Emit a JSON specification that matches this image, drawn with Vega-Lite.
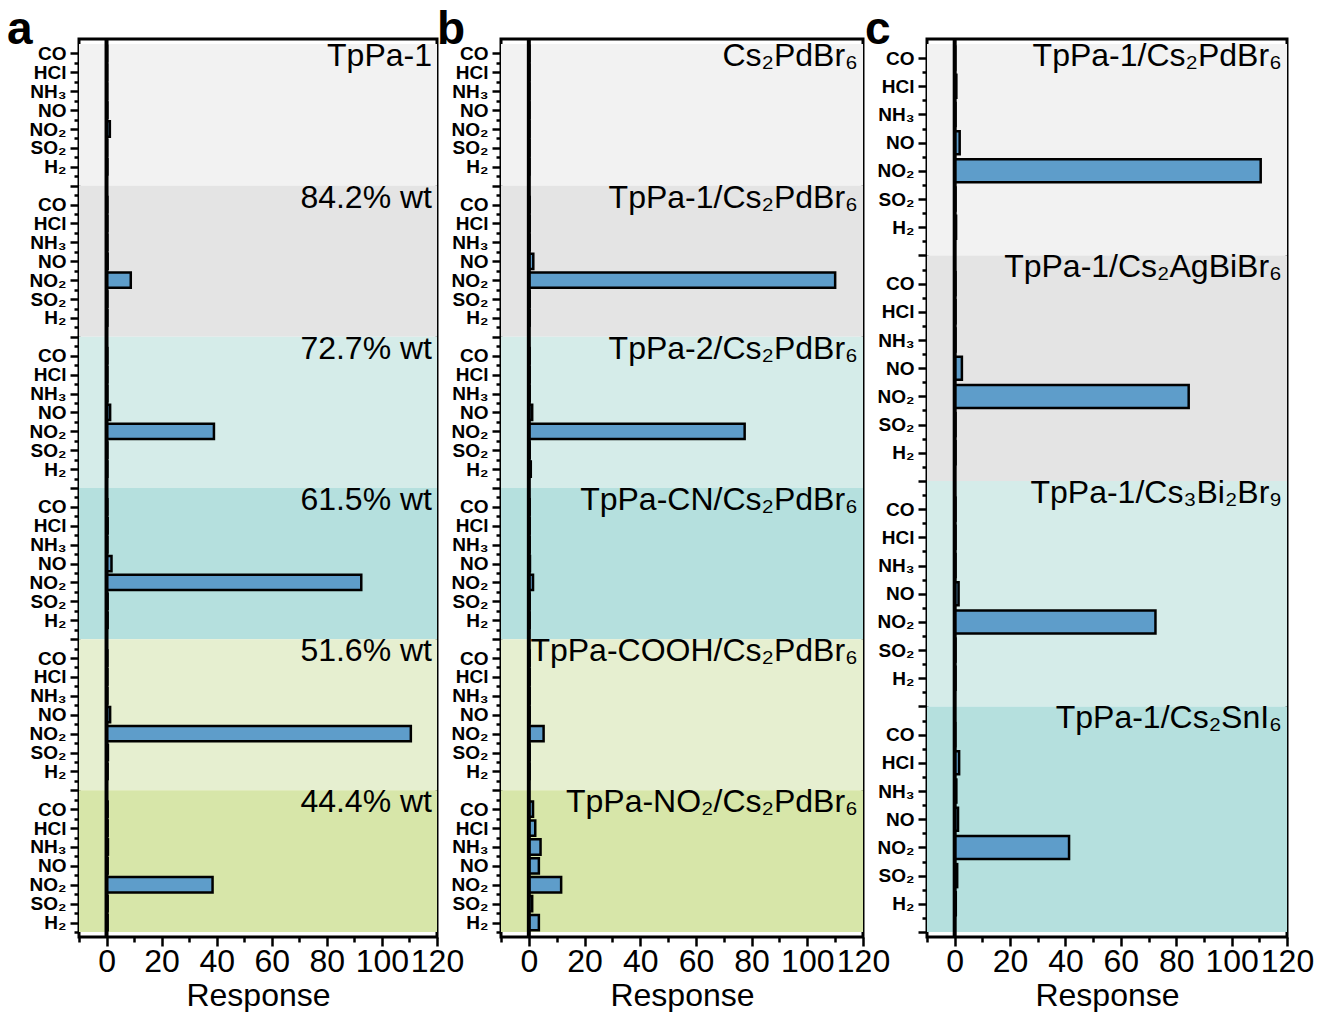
{
  "$schema": "https://vega.github.io/schema/vega-lite/v6.json",
  "background": "white",
  "padding": {"left": 5, "top": 5, "right": 5, "bottom": 0},
  "bounds": "flush",
  "spacing": 64,
  "config": {
    "font": "Liberation Sans",
    "view": {"stroke": "black", "strokeWidth": 3},
    "axis": {"domain": false, "grid": false, "tickColor": "black", "tickWidth": 2.5, "labelColor": "black", "titleColor": "black", "labelFont": "Liberation Sans", "titleFont": "Liberation Sans"},
    "axisX": {"labelFontSize": 32, "titleFontSize": 32, "titleFontWeight": "normal", "labelPadding": 0, "titlePadding": 3, "labelFlush": false, "labelOverlap": false, "labelBound": false},
    "axisY": {"labelFontSize": 19, "labelFontWeight": "bold", "labelPadding": 4, "labelOverlap": false, "labelBound": false}
  },
  "datasets": {
    "groups": [
      {"p": "a", "g": 0, "label": "TpPa-1"},
      {"p": "a", "g": 1, "label": "84.2% wt"},
      {"p": "a", "g": 2, "label": "72.7% wt"},
      {"p": "a", "g": 3, "label": "61.5% wt"},
      {"p": "a", "g": 4, "label": "51.6% wt"},
      {"p": "a", "g": 5, "label": "44.4% wt"},
      {"p": "b", "g": 0, "label": "Cs₂PdBr₆"},
      {"p": "b", "g": 1, "label": "TpPa-1/Cs₂PdBr₆"},
      {"p": "b", "g": 2, "label": "TpPa-2/Cs₂PdBr₆"},
      {"p": "b", "g": 3, "label": "TpPa-CN/Cs₂PdBr₆"},
      {"p": "b", "g": 4, "label": "TpPa-COOH/Cs₂PdBr₆"},
      {"p": "b", "g": 5, "label": "TpPa-NO₂/Cs₂PdBr₆"},
      {"p": "c", "g": 0, "label": "TpPa-1/Cs₂PdBr₆"},
      {"p": "c", "g": 1, "label": "TpPa-1/Cs₂AgBiBr₆"},
      {"p": "c", "g": 2, "label": "TpPa-1/Cs₃Bi₂Br₉"},
      {"p": "c", "g": 3, "label": "TpPa-1/Cs₂SnI₆"}
    ],
    "bars": [
      {"p": "a", "g": 0, "gas": "CO", "v": 0.2}, {"p": "a", "g": 0, "gas": "HCl", "v": 0.2}, {"p": "a", "g": 0, "gas": "NH3", "v": 0.2}, {"p": "a", "g": 0, "gas": "NO", "v": 0.3}, {"p": "a", "g": 0, "gas": "NO2", "v": 1.2}, {"p": "a", "g": 0, "gas": "SO2", "v": 0.2}, {"p": "a", "g": 0, "gas": "H2", "v": 0.3},
      {"p": "a", "g": 1, "gas": "CO", "v": 0.3}, {"p": "a", "g": 1, "gas": "HCl", "v": 0.3}, {"p": "a", "g": 1, "gas": "NH3", "v": 0.3}, {"p": "a", "g": 1, "gas": "NO", "v": 0.4}, {"p": "a", "g": 1, "gas": "NO2", "v": 8.8}, {"p": "a", "g": 1, "gas": "SO2", "v": 0.3}, {"p": "a", "g": 1, "gas": "H2", "v": 0.3},
      {"p": "a", "g": 2, "gas": "CO", "v": 0.3}, {"p": "a", "g": 2, "gas": "HCl", "v": 0.3}, {"p": "a", "g": 2, "gas": "NH3", "v": 0.3}, {"p": "a", "g": 2, "gas": "NO", "v": 1.3}, {"p": "a", "g": 2, "gas": "NO2", "v": 39}, {"p": "a", "g": 2, "gas": "SO2", "v": 0.3}, {"p": "a", "g": 2, "gas": "H2", "v": 0.3},
      {"p": "a", "g": 3, "gas": "CO", "v": 0.3}, {"p": "a", "g": 3, "gas": "HCl", "v": 0.4}, {"p": "a", "g": 3, "gas": "NH3", "v": 0.3}, {"p": "a", "g": 3, "gas": "NO", "v": 1.8}, {"p": "a", "g": 3, "gas": "NO2", "v": 92.5}, {"p": "a", "g": 3, "gas": "SO2", "v": 0.4}, {"p": "a", "g": 3, "gas": "H2", "v": 0.4},
      {"p": "a", "g": 4, "gas": "CO", "v": 0.3}, {"p": "a", "g": 4, "gas": "HCl", "v": 0.3}, {"p": "a", "g": 4, "gas": "NH3", "v": 0.3}, {"p": "a", "g": 4, "gas": "NO", "v": 1.3}, {"p": "a", "g": 4, "gas": "NO2", "v": 110.5}, {"p": "a", "g": 4, "gas": "SO2", "v": 0.5}, {"p": "a", "g": 4, "gas": "H2", "v": 0.4},
      {"p": "a", "g": 5, "gas": "CO", "v": 0.4}, {"p": "a", "g": 5, "gas": "HCl", "v": 0.4}, {"p": "a", "g": 5, "gas": "NH3", "v": 0.5}, {"p": "a", "g": 5, "gas": "NO", "v": 0.4}, {"p": "a", "g": 5, "gas": "NO2", "v": 38.5}, {"p": "a", "g": 5, "gas": "SO2", "v": 0.4}, {"p": "a", "g": 5, "gas": "H2", "v": 0.4},
      {"p": "b", "g": 0, "gas": "CO", "v": 0.2}, {"p": "b", "g": 0, "gas": "HCl", "v": 0.2}, {"p": "b", "g": 0, "gas": "NH3", "v": 0.2}, {"p": "b", "g": 0, "gas": "NO", "v": 0.2}, {"p": "b", "g": 0, "gas": "NO2", "v": 0.2}, {"p": "b", "g": 0, "gas": "SO2", "v": 0.2}, {"p": "b", "g": 0, "gas": "H2", "v": 0.2},
      {"p": "b", "g": 1, "gas": "CO", "v": 0.3}, {"p": "b", "g": 1, "gas": "HCl", "v": 0.3}, {"p": "b", "g": 1, "gas": "NH3", "v": 0.3}, {"p": "b", "g": 1, "gas": "NO", "v": 1.6}, {"p": "b", "g": 1, "gas": "NO2", "v": 110}, {"p": "b", "g": 1, "gas": "SO2", "v": 0.3}, {"p": "b", "g": 1, "gas": "H2", "v": 0.3},
      {"p": "b", "g": 2, "gas": "CO", "v": 0.3}, {"p": "b", "g": 2, "gas": "HCl", "v": 0.3}, {"p": "b", "g": 2, "gas": "NH3", "v": 0.3}, {"p": "b", "g": 2, "gas": "NO", "v": 1.2}, {"p": "b", "g": 2, "gas": "NO2", "v": 77.5}, {"p": "b", "g": 2, "gas": "SO2", "v": 0.3}, {"p": "b", "g": 2, "gas": "H2", "v": 0.7},
      {"p": "b", "g": 3, "gas": "CO", "v": 0.3}, {"p": "b", "g": 3, "gas": "HCl", "v": 0.3}, {"p": "b", "g": 3, "gas": "NH3", "v": 0.3}, {"p": "b", "g": 3, "gas": "NO", "v": 0.4}, {"p": "b", "g": 3, "gas": "NO2", "v": 1.5}, {"p": "b", "g": 3, "gas": "SO2", "v": 0.3}, {"p": "b", "g": 3, "gas": "H2", "v": 0.3},
      {"p": "b", "g": 4, "gas": "CO", "v": 0.3}, {"p": "b", "g": 4, "gas": "HCl", "v": 0.3}, {"p": "b", "g": 4, "gas": "NH3", "v": 0.3}, {"p": "b", "g": 4, "gas": "NO", "v": 0.3}, {"p": "b", "g": 4, "gas": "NO2", "v": 5.3}, {"p": "b", "g": 4, "gas": "SO2", "v": 0.3}, {"p": "b", "g": 4, "gas": "H2", "v": 0.3},
      {"p": "b", "g": 5, "gas": "CO", "v": 1.5}, {"p": "b", "g": 5, "gas": "HCl", "v": 2.3}, {"p": "b", "g": 5, "gas": "NH3", "v": 4.2}, {"p": "b", "g": 5, "gas": "NO", "v": 3.6}, {"p": "b", "g": 5, "gas": "NO2", "v": 11.6}, {"p": "b", "g": 5, "gas": "SO2", "v": 1.2}, {"p": "b", "g": 5, "gas": "H2", "v": 3.6},
      {"p": "c", "g": 0, "gas": "CO", "v": 0.2}, {"p": "c", "g": 0, "gas": "HCl", "v": 0.6}, {"p": "c", "g": 0, "gas": "NH3", "v": 0.3}, {"p": "c", "g": 0, "gas": "NO", "v": 1.8}, {"p": "c", "g": 0, "gas": "NO2", "v": 110.5}, {"p": "c", "g": 0, "gas": "SO2", "v": 0.3}, {"p": "c", "g": 0, "gas": "H2", "v": 0.5},
      {"p": "c", "g": 1, "gas": "CO", "v": 0.3}, {"p": "c", "g": 1, "gas": "HCl", "v": 0.3}, {"p": "c", "g": 1, "gas": "NH3", "v": 0.3}, {"p": "c", "g": 1, "gas": "NO", "v": 2.6}, {"p": "c", "g": 1, "gas": "NO2", "v": 84.5}, {"p": "c", "g": 1, "gas": "SO2", "v": 0.3}, {"p": "c", "g": 1, "gas": "H2", "v": 0.3},
      {"p": "c", "g": 2, "gas": "CO", "v": 0.3}, {"p": "c", "g": 2, "gas": "HCl", "v": 0.3}, {"p": "c", "g": 2, "gas": "NH3", "v": 0.3}, {"p": "c", "g": 2, "gas": "NO", "v": 1.4}, {"p": "c", "g": 2, "gas": "NO2", "v": 72.5}, {"p": "c", "g": 2, "gas": "SO2", "v": 0.3}, {"p": "c", "g": 2, "gas": "H2", "v": 0.3},
      {"p": "c", "g": 3, "gas": "CO", "v": 0.2}, {"p": "c", "g": 3, "gas": "HCl", "v": 1.6}, {"p": "c", "g": 3, "gas": "NH3", "v": 0.6}, {"p": "c", "g": 3, "gas": "NO", "v": 1.2}, {"p": "c", "g": 3, "gas": "NO2", "v": 41.3}, {"p": "c", "g": 3, "gas": "SO2", "v": 0.9}, {"p": "c", "g": 3, "gas": "H2", "v": 0.4}
    ]
  },
  "hconcat": [
    {
      "width": 358, "height": 898,
      "title": {"text": "a", "anchor": "start", "frame": "group", "fontSize": 46, "fontWeight": "bold", "color": "black", "dx": -72, "offset": -53, "baseline": "alphabetic"},
      "layer": [
        {
          "data": {"name": "groups"},
          "transform": [{"filter": "datum.p == 'a'"}, {"calculate": "max(datum.g*8-1,-0.5)", "as": "y0"}, {"calculate": "min(datum.g*8+7,46.5)", "as": "y1"}],
          "mark": {"type": "rect"},
          "encoding": {
            "x": {"datum": -10, "type": "quantitative", "title": "Response", "scale": {"domain": [-10, 120], "nice": false, "zero": false},
              "axis": {"values": [-10, 0, 10, 20, 30, 40, 50, 60, 70, 80, 90, 100, 110, 120], "format": "d", "tickCount": 500, "labelOverlap": false, "labelExpr": "datum.value >= 0 && datum.value % 20 == 0 ? datum.label : ''", "tickSize": {"condition": {"test": "datum.value % 20 != 0", "value": 5}, "value": 9}}},
            "x2": {"datum": 120},
            "y": {"field": "y0", "type": "quantitative", "title": null, "scale": {"domain": [-0.5, 46.5], "reverse": true, "nice": false, "zero": false},
              "axis": {"values": [0,0.5,1,1.5,2,2.5,3,3.5,4,4.5,5,5.5,6,6.5,7,7.5,8,8.5,9,9.5,10,10.5,11,11.5,12,12.5,13,13.5,14,14.5,15,15.5,16,16.5,17,17.5,18,18.5,19,19.5,20,20.5,21,21.5,22,22.5,23,23.5,24,24.5,25,25.5,26,26.5,27,27.5,28,28.5,29,29.5,30,30.5,31,31.5,32,32.5,33,33.5,34,34.5,35,35.5,36,36.5,37,37.5,38,38.5,39,39.5,40,40.5,41,41.5,42,42.5,43,43.5,44,44.5,45,45.5,46,46.5],
                "tickCount": 500, "labelOverlap": false,
                "labelExpr": "datum.value % 1 != 0 ? '' : ['CO','HCl','NH₃','NO','NO₂','SO₂','H₂',''][datum.value % 8]",
                "tickSize": {"condition": {"test": "datum.value % 1 != 0", "value": 5}, "value": 9}}},
            "y2": {"field": "y1"},
            "color": {"field": "g", "type": "nominal", "scale": {"domain": [0, 1, 2, 3, 4, 5], "range": ["#f2f2f2", "#e4e4e4", "#d5ece9", "#b5e0de", "#e6efd0", "#d7e6a9"]}, "legend": null}
          }
        },
        {
          "data": {"name": "bars"},
          "transform": [{"filter": "datum.p == 'a'"}, {"calculate": "datum.g*8+indexof(['CO','HCl','NH3','NO','NO2','SO2','H2'],datum.gas)", "as": "slot"}],
          "mark": {"type": "bar", "orient": "horizontal", "height": 15.3, "fill": "#5e9dca", "stroke": "black", "strokeWidth": 2.5},
          "encoding": {"x": {"field": "v", "type": "quantitative", "title": "Response"}, "y": {"field": "slot", "type": "quantitative", "title": null}}
        },
        {
          "data": {"values": [{"z": 0}]},
          "mark": {"type": "rule", "color": "black", "strokeWidth": 4},
          "encoding": {"x": {"field": "z", "type": "quantitative", "title": "Response"}}
        },
        {
          "data": {"name": "groups"},
          "transform": [{"filter": "datum.p == 'a'"}, {"calculate": "max(datum.g*8-1,-0.5)", "as": "y0"}],
          "mark": {"type": "text", "align": "right", "baseline": "top", "dx": -5, "dy": -3, "fontSize": 32, "color": "black"},
          "encoding": {"x": {"datum": 120, "type": "quantitative", "title": "Response"}, "y": {"field": "y0", "type": "quantitative", "title": null}, "text": {"field": "label"}}
        }
      ]
    },
    {
      "width": 362, "height": 898,
      "title": {"text": "b", "anchor": "start", "frame": "group", "fontSize": 46, "fontWeight": "bold", "color": "black", "dx": -64, "offset": -53, "baseline": "alphabetic"},
      "layer": [
        {
          "data": {"name": "groups"},
          "transform": [{"filter": "datum.p == 'b'"}, {"calculate": "max(datum.g*8-1,-0.5)", "as": "y0"}, {"calculate": "min(datum.g*8+7,46.5)", "as": "y1"}],
          "mark": {"type": "rect"},
          "encoding": {
            "x": {"datum": -10, "type": "quantitative", "title": "Response", "scale": {"domain": [-10, 120], "nice": false, "zero": false},
              "axis": {"values": [-10, 0, 10, 20, 30, 40, 50, 60, 70, 80, 90, 100, 110, 120], "format": "d", "tickCount": 500, "labelOverlap": false, "labelExpr": "datum.value >= 0 && datum.value % 20 == 0 ? datum.label : ''", "tickSize": {"condition": {"test": "datum.value % 20 != 0", "value": 5}, "value": 9}}},
            "x2": {"datum": 120},
            "y": {"field": "y0", "type": "quantitative", "title": null, "scale": {"domain": [-0.5, 46.5], "reverse": true, "nice": false, "zero": false},
              "axis": {"values": [0,0.5,1,1.5,2,2.5,3,3.5,4,4.5,5,5.5,6,6.5,7,7.5,8,8.5,9,9.5,10,10.5,11,11.5,12,12.5,13,13.5,14,14.5,15,15.5,16,16.5,17,17.5,18,18.5,19,19.5,20,20.5,21,21.5,22,22.5,23,23.5,24,24.5,25,25.5,26,26.5,27,27.5,28,28.5,29,29.5,30,30.5,31,31.5,32,32.5,33,33.5,34,34.5,35,35.5,36,36.5,37,37.5,38,38.5,39,39.5,40,40.5,41,41.5,42,42.5,43,43.5,44,44.5,45,45.5,46,46.5],
                "tickCount": 500, "labelOverlap": false,
                "labelExpr": "datum.value % 1 != 0 ? '' : ['CO','HCl','NH₃','NO','NO₂','SO₂','H₂',''][datum.value % 8]",
                "tickSize": {"condition": {"test": "datum.value % 1 != 0", "value": 5}, "value": 9}}},
            "y2": {"field": "y1"},
            "color": {"field": "g", "type": "nominal", "scale": {"domain": [0, 1, 2, 3, 4, 5], "range": ["#f2f2f2", "#e4e4e4", "#d5ece9", "#b5e0de", "#e6efd0", "#d7e6a9"]}, "legend": null}
          }
        },
        {
          "data": {"name": "bars"},
          "transform": [{"filter": "datum.p == 'b'"}, {"calculate": "datum.g*8+indexof(['CO','HCl','NH3','NO','NO2','SO2','H2'],datum.gas)", "as": "slot"}],
          "mark": {"type": "bar", "orient": "horizontal", "height": 15.3, "fill": "#5e9dca", "stroke": "black", "strokeWidth": 2.5},
          "encoding": {"x": {"field": "v", "type": "quantitative", "title": "Response"}, "y": {"field": "slot", "type": "quantitative", "title": null}}
        },
        {
          "data": {"values": [{"z": 0}]},
          "mark": {"type": "rule", "color": "black", "strokeWidth": 4},
          "encoding": {"x": {"field": "z", "type": "quantitative", "title": "Response"}}
        },
        {
          "data": {"name": "groups"},
          "transform": [{"filter": "datum.p == 'b'"}, {"calculate": "max(datum.g*8-1,-0.5)", "as": "y0"}],
          "mark": {"type": "text", "align": "right", "baseline": "top", "dx": -5, "dy": -3, "fontSize": 32, "color": "black"},
          "encoding": {"x": {"datum": 120, "type": "quantitative", "title": "Response"}, "y": {"field": "y0", "type": "quantitative", "title": null}, "text": {"field": "label"}}
        }
      ]
    },
    {
      "width": 360, "height": 898,
      "title": {"text": "c", "anchor": "start", "frame": "group", "fontSize": 46, "fontWeight": "bold", "color": "black", "dx": -62, "offset": -53, "baseline": "alphabetic"},
      "layer": [
        {
          "data": {"name": "groups"},
          "transform": [{"filter": "datum.p == 'c'"}, {"calculate": "max(datum.g*8-1,-0.5)", "as": "y0"}, {"calculate": "min(datum.g*8+7,31)", "as": "y1"}],
          "mark": {"type": "rect"},
          "encoding": {
            "x": {"datum": -10, "type": "quantitative", "title": "Response", "scale": {"domain": [-10, 120], "nice": false, "zero": false},
              "axis": {"values": [-10, 0, 10, 20, 30, 40, 50, 60, 70, 80, 90, 100, 110, 120], "format": "d", "tickCount": 500, "labelOverlap": false, "labelExpr": "datum.value >= 0 && datum.value % 20 == 0 ? datum.label : ''", "tickSize": {"condition": {"test": "datum.value % 20 != 0", "value": 5}, "value": 9}}},
            "x2": {"datum": 120},
            "y": {"field": "y0", "type": "quantitative", "title": null, "scale": {"domain": [-0.5, 31], "reverse": true, "nice": false, "zero": false},
              "axis": {"values": [0,0.5,1,1.5,2,2.5,3,3.5,4,4.5,5,5.5,6,6.5,7,7.5,8,8.5,9,9.5,10,10.5,11,11.5,12,12.5,13,13.5,14,14.5,15,15.5,16,16.5,17,17.5,18,18.5,19,19.5,20,20.5,21,21.5,22,22.5,23,23.5,24,24.5,25,25.5,26,26.5,27,27.5,28,28.5,29,29.5,30,30.5,31],
                "tickCount": 500, "labelOverlap": false,
                "labelExpr": "datum.value % 1 != 0 ? '' : ['CO','HCl','NH₃','NO','NO₂','SO₂','H₂',''][datum.value % 8]",
                "tickSize": {"condition": {"test": "datum.value % 1 != 0", "value": 5}, "value": 9}}},
            "y2": {"field": "y1"},
            "color": {"field": "g", "type": "nominal", "scale": {"domain": [0, 1, 2, 3], "range": ["#f2f2f2", "#e4e4e4", "#d5ece9", "#b5e0de"]}, "legend": null}
          }
        },
        {
          "data": {"name": "bars"},
          "transform": [{"filter": "datum.p == 'c'"}, {"calculate": "datum.g*8+indexof(['CO','HCl','NH3','NO','NO2','SO2','H2'],datum.gas)", "as": "slot"}],
          "mark": {"type": "bar", "orient": "horizontal", "height": 23, "fill": "#5e9dca", "stroke": "black", "strokeWidth": 2.5},
          "encoding": {"x": {"field": "v", "type": "quantitative", "title": "Response"}, "y": {"field": "slot", "type": "quantitative", "title": null}}
        },
        {
          "data": {"values": [{"z": 0}]},
          "mark": {"type": "rule", "color": "black", "strokeWidth": 4},
          "encoding": {"x": {"field": "z", "type": "quantitative", "title": "Response"}}
        },
        {
          "data": {"name": "groups"},
          "transform": [{"filter": "datum.p == 'c'"}, {"calculate": "max(datum.g*8-1,-0.5)", "as": "y0"}],
          "mark": {"type": "text", "align": "right", "baseline": "top", "dx": -5, "dy": -3, "fontSize": 32, "color": "black"},
          "encoding": {"x": {"datum": 120, "type": "quantitative", "title": "Response"}, "y": {"field": "y0", "type": "quantitative", "title": null}, "text": {"field": "label"}}
        }
      ]
    }
  ]
}
